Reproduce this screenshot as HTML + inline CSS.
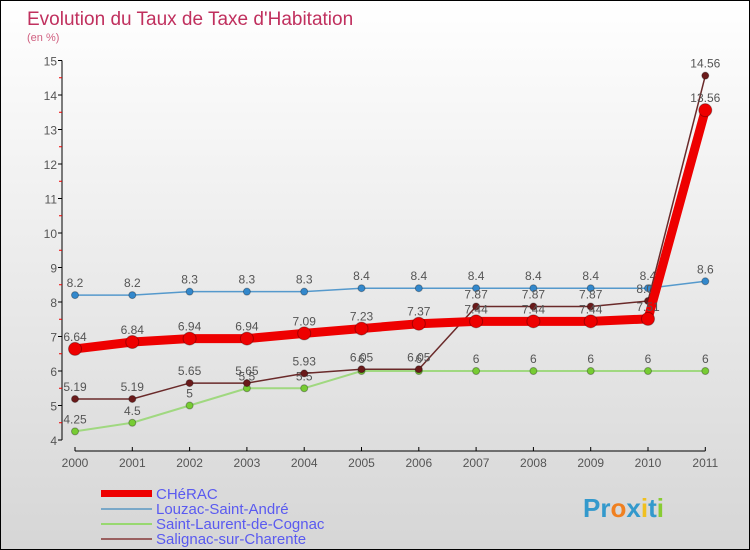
<!DOCTYPE html>
<html><head><meta charset="utf-8"><style>
body{margin:0}
#c{width:748px;height:548px;border:1px solid #000;background:linear-gradient(#fff,#d6d6d6);position:relative;font-family:"Liberation Sans",sans-serif}
</style></head><body>
<div id="c">
<svg width="748" height="548" id="svg" style="position:absolute;left:0;top:0">
<text x="26" y="24" font-size="19" fill="#c0305e">Evolution du Taux de Taxe d'Habitation</text>
<text x="26" y="40" font-size="11" fill="#d06080">(en %)</text>
<g id="axes"></g><g id="series"></g>
<g font-size="15" fill="#5a5af0">
<rect x="100" y="489" width="51" height="7" fill="#e00"/>
<text x="155" y="498">CHéRAC</text>
<rect x="100" y="507" width="51" height="2" fill="#7aa8c8"/>
<text x="155" y="513">Louzac-Saint-André</text>
<rect x="100" y="522" width="51" height="2" fill="#98d870"/>
<text x="155" y="528">Saint-Laurent-de-Cognac</text>
<rect x="100" y="537" width="51" height="2" fill="#9a6060"/>
<text x="155" y="543">Salignac-sur-Charente</text>
</g>
<text x="582" y="516" font-size="26" font-weight="bold" fill="#3399cc">Pr<tspan fill="#f08020">o</tspan>x<tspan fill="#f0c020">i</tspan>t<tspan fill="#88cc33">i</tspan></text>
</svg>
</div>
<script>
const years=[2000,2001,2002,2003,2004,2005,2006,2007,2008,2009,2010,2011];
const cherac=[6.64,6.84,6.94,6.94,7.09,7.23,7.37,7.44,7.44,7.44,7.51,13.56];
const louzac=[8.2,8.2,8.3,8.3,8.3,8.4,8.4,8.4,8.4,8.4,8.4,8.6];
const laurent=[4.25,4.5,5,5.5,5.5,6,6,6,6,6,6,6];
const salignac=[5.19,5.19,5.65,5.65,5.93,6.05,6.05,7.87,7.87,7.87,8.03,14.56];
const yTicks=[4,5,6,7,8,9,10,11,12,13,14,15];
const NS="http://www.w3.org/2000/svg";
const X=i=>74+i*57.3, Y=v=>439-(v-4)*34.5;
function mk(t,a,p){const e=document.createElementNS(NS,t);for(const k in a)e.setAttribute(k,a[k]);p.appendChild(e);return e;}
const ax=document.getElementById('axes'), se=document.getElementById('series');
let l=mk('line',{x1:61,y1:Y(15),x2:61,y2:Y(4),stroke:'#000'},ax);


l=mk('line',{x1:X(0),y1:450,x2:X(11),y2:450,stroke:'#000'},ax);


yTicks.forEach(v=>{mk('line',{x1:57,y1:Y(v),x2:61,y2:Y(v),stroke:'#000'},ax);
if(v<15)mk('line',{x1:58,y1:Y(v+0.5),x2:61,y2:Y(v+0.5),stroke:'#e00'},ax);
const t=mk('text',{x:56,y:Y(v)+5,'text-anchor':'end','font-size':12,fill:'#555'},ax);t.textContent=v;

});
years.forEach((y,i)=>{mk('line',{x1:X(i),y1:446,x2:X(i),y2:450,stroke:'#000'},ax);
const t=mk('text',{x:X(i),y:466,'text-anchor':'middle','font-size':12,fill:'#555'},ax);t.textContent=y;

});
function series(data,color,w,r,mc,name){const g=mk('g',{},se);


mk('polyline',{points:data.map((v,i)=>X(i)+','+Y(v)).join(' '),fill:'none',stroke:color,'stroke-width':w},g);
data.forEach((v,i)=>{const c=mk('circle',{cx:X(i),cy:Y(v),r:r,fill:mc,stroke:'rgba(0,0,0,0.3)'},g);


const t=mk('text',{x:X(i),y:Y(v)-8,'text-anchor':'middle','font-size':12,fill:'#555'},g);t.textContent=v;

});}
series(laurent,'#a0d880',2,3.5,'#77cc33','saint-laurent');
series(louzac,'#5599cc',1.5,3.5,'#3388cc','louzac');
series(salignac,'#6a2a2a',1.5,3.5,'#6a1a1a','salignac');
series(cherac,'#ee0000',9,6.5,'#ee0000','cherac');
</script>
</body></html>
